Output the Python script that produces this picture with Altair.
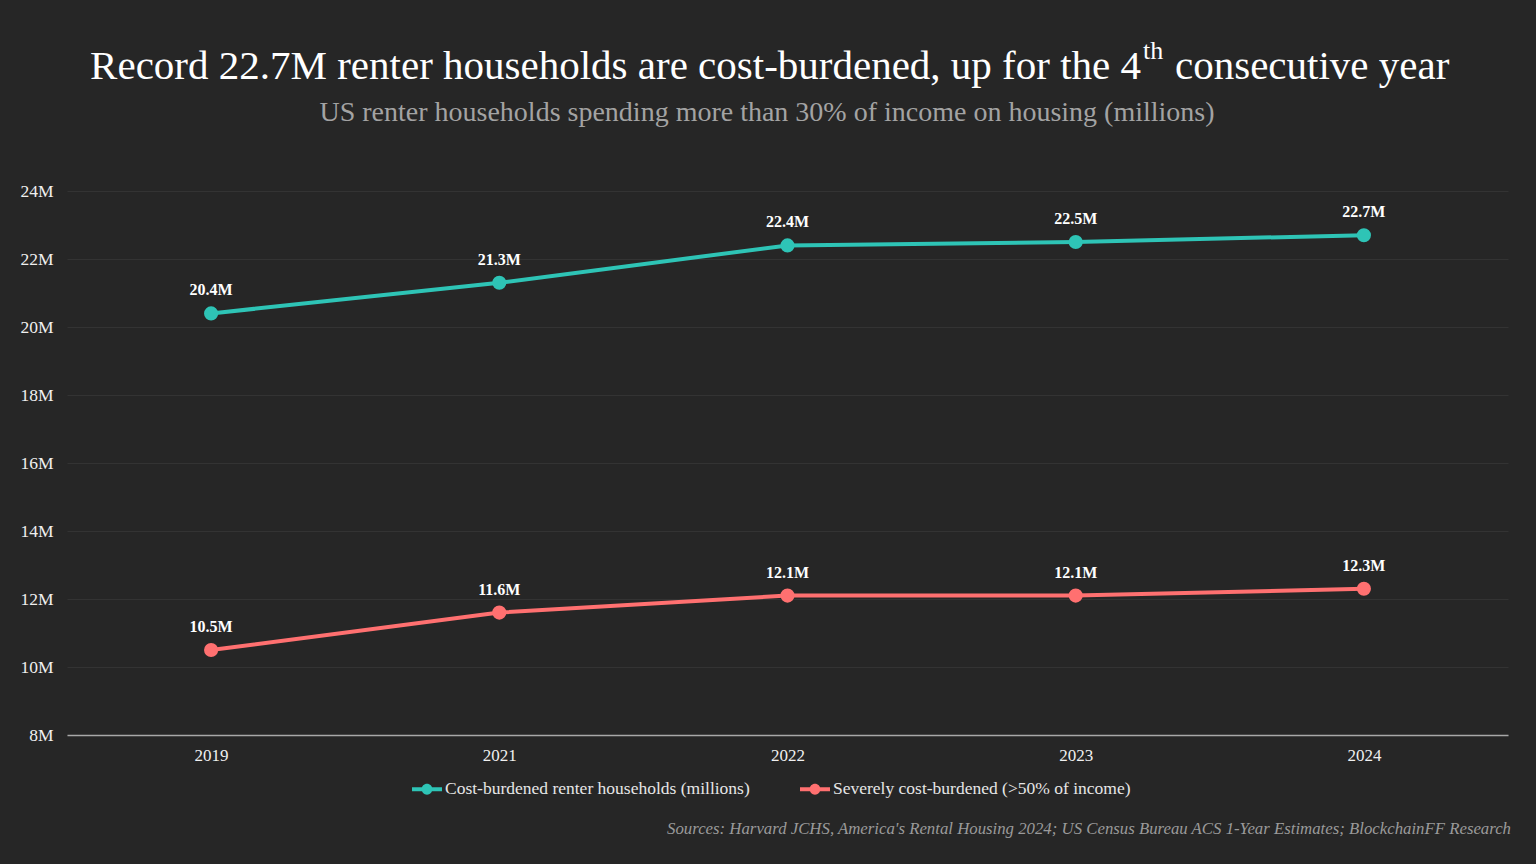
import altair as alt
import pandas as pd

# Survey years and household counts (millions)
years = ["2019", "2021", "2022", "2023", "2024"]
cost_burdened = [20.4, 21.3, 22.4, 22.5, 22.7]
severely_burdened = [10.5, 11.6, 12.1, 12.1, 12.3]

series_names = [
    "Cost-burdened renter households (millions)",
    "Severely cost-burdened (>50% of income)",
]
series_colors = ["#2ec4b6", "#ff7070"]

title_main = "Record 22.7M renter households are cost-burdened, up for the 4"
title_sup = "th"
title_tail = "consecutive year"
subtitle = "US renter households spending more than 30% of income on housing (millions)"
source_note = ("Sources: Harvard JCHS, America's Rental Housing 2024; "
               "US Census Bureau ACS 1-Year Estimates; BlockchainFF Research")

FONT = "Liberation Serif"
BG = "#262626"

rows = []
for name, values in zip(series_names, [cost_burdened, severely_burdened]):
    for y, v in zip(years, values):
        rows.append({"year": y, "value": v, "series": name, "label": f"{v:.1f}M"})
df = pd.DataFrame(rows)

x_enc = alt.X(
    "year:N",
    sort=years,
    scale=alt.Scale(type="point", padding=0.5),
    axis=alt.Axis(
        title=None, labelAngle=0, labelFontSize=17, labelColor="#f0f0f0",
        labelFont=FONT, labelPadding=12, ticks=False, domain=True,
        domainColor="#a8a8a8", domainWidth=1.5, grid=False,
    ),
)
y_enc = alt.Y(
    "value:Q",
    scale=alt.Scale(domain=[8, 24], nice=False, zero=False),
    axis=alt.Axis(
        title=None, values=[8, 10, 12, 14, 16, 18, 20, 22, 24],
        labelExpr="datum.value + 'M'", labelFontSize=17.5, labelColor="#f0f0f0",
        labelFont=FONT, labelPadding=14, ticks=False, domain=False,
        gridColor="#333333", gridWidth=1,
    ),
)
color_scale = alt.Scale(domain=series_names, range=series_colors)

# legend swatch: a short bar with a dot in the middle
legend_symbol = ("M-1,-0.13H1V0.13H-1Z"
                 "M0.36,0A0.36,0.36 0 1,1 -0.36,0A0.36,0.36 0 1,1 0.36,0Z")
legend = alt.Legend(
    title=None, orient="none", direction="horizontal",
    legendX=345, legendY=583,
    symbolType=legend_symbol, symbolSize=900, symbolStrokeWidth=0,
    labelFont=FONT, labelFontSize=17.5, labelColor="#e6e6e6",
    columnPadding=50, labelOffset=3, labelLimit=400,
)
color_enc = alt.Color("series:N", scale=color_scale, legend=legend)

base = alt.Chart(df)

lines = base.mark_line(strokeWidth=4).encode(
    x=x_enc, y=y_enc, color=color_enc,
)

points = base.mark_circle(size=200, opacity=1).encode(
    x=x_enc, y=y_enc, color=color_enc,
)

labels = base.mark_text(
    font=FONT, fontSize=16, fontWeight="bold", color="#ffffff",
    dy=-18, baseline="alphabetic",
).encode(x=x_enc, y=y_enc, text="label:N")

title_a = alt.Chart(pd.DataFrame({"t": [title_main]})).mark_text(
    font=FONT, fontSize=41, color="#ffffff", align="right", baseline="alphabetic",
).encode(x=alt.value(1074), y=alt.value(-112), text="t:N")

title_b = alt.Chart(pd.DataFrame({"t": [title_sup]})).mark_text(
    font=FONT, fontSize=26, color="#ffffff", align="left", baseline="alphabetic",
).encode(x=alt.value(1076), y=alt.value(-132), text="t:N")

title_c = alt.Chart(pd.DataFrame({"t": [title_tail]})).mark_text(
    font=FONT, fontSize=41, color="#ffffff", align="left", baseline="alphabetic",
).encode(x=alt.value(1108), y=alt.value(-112), text="t:N")

sub = alt.Chart(pd.DataFrame({"t": [subtitle]})).mark_text(
    font=FONT, fontSize=28, color="#a3a3a3", align="center", baseline="alphabetic",
).encode(x=alt.value(700), y=alt.value(-70), text="t:N")

source = alt.Chart(pd.DataFrame({"t": [source_note]})).mark_text(
    font=FONT, fontSize=16.8, fontStyle="italic", color="#9a9a9a",
    align="right", baseline="alphabetic",
).encode(x=alt.value(1444), y=alt.value(643), text="t:N")

chart = alt.layer(lines, points, labels, title_a, title_b, title_c, sub, source).properties(
    width=1441,
    height=544,
    background=BG,
    autosize=alt.AutoSizeParams(type="none"),
    padding={"left": 67, "top": 191, "right": 28, "bottom": 129},
).configure_view(stroke=None)

chart.save("out.html", embed_options={"renderer": "svg", "actions": False})
